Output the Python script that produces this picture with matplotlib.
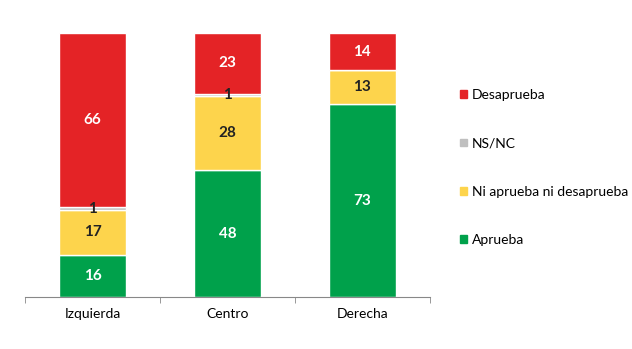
import matplotlib.pyplot as plt
import numpy as np
from matplotlib.patches import Patch

plt.rcParams['font.family'] = ['Lato', 'DejaVu Sans']

grupos = ["Izquierda", "Centro", "Derecha"]
aprueba = [16, 48, 73]
ni_ni = [17, 28, 13]
nsnc = [1, 1, 0]
desaprueba = [66, 23, 14]

series = [
    ("Aprueba", aprueba, "#00A14B", "white"),
    ("Ni aprueba ni desaprueba", ni_ni, "#FDD44C", "#222222"),
    ("NS/NC", nsnc, "#BFBFBF", "#222222"),
    ("Desaprueba", desaprueba, "#E42326", "white"),
]

fig = plt.figure(figsize=(6.32, 3.49), dpi=100)
ax = fig.add_axes([0.04, 0.149, 0.64, 0.756])

x = np.arange(len(grupos))
base = np.zeros(len(grupos))
for nombre, vals, color, tcolor in series:
    vals = np.array(vals, dtype=float)
    bars = ax.bar(x, vals, 0.5, bottom=base, color=color,
                  edgecolor="white", linewidth=1, label=nombre)
    for b, v, y0 in zip(bars, vals, base):
        if v <= 0:
            continue
        ax.text(b.get_x() + b.get_width() / 2, y0 + v / 2, f"{int(v)}",
                ha="center", va="center", color=tcolor,
                fontsize=11, fontweight="bold")
    base += vals

ax.set_xlim(-0.5, 2.5)
ax.set_ylim(0, 100)
ax.set_yticks([])
for s in ["top", "right", "left"]:
    ax.spines[s].set_visible(False)
ax.spines["bottom"].set_color("#888888")
ax.set_xticks(x)
ax.set_xticklabels(grupos, fontsize=10)
ax.tick_params(axis="x", which="major", length=0, pad=8)
ax.set_xticks(np.arange(-0.5, 3, 1), minor=True)
ax.tick_params(axis="x", which="minor", length=4, color="#888888")

handles = [Patch(color=c, label=n) for n, _, c, _ in reversed(series)]
fig.legend(handles=handles, loc="center left", bbox_to_anchor=(0.708, 0.52),
           frameon=False, fontsize=10, handlelength=0.5, handleheight=0.5,
           handletextpad=0.35, labelspacing=2.6)

fig.savefig("out.png", dpi=100)
